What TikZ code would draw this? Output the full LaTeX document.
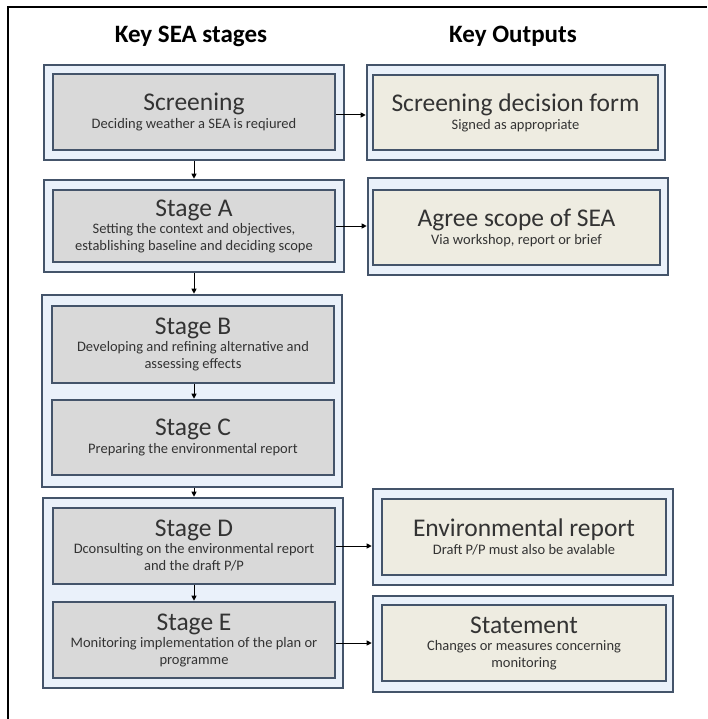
\documentclass[tikz,border=0pt]{standalone}
\usepackage{fontspec}
\setmainfont{Carlito}
\usetikzlibrary{arrows.meta}
\definecolor{bord}{HTML}{44546A}
\definecolor{outfill}{HTML}{EAF1FA}
\definecolor{grayfill}{HTML}{D9D9D9}
\definecolor{beige}{HTML}{EEECE1}
\begin{document}
\begin{tikzpicture}[x=1pt,y=-1pt,
  outerbox/.style={rectangle, draw=bord, line width=2.6pt, fill=outfill, minimum width=300pt, inner sep=0pt},
  innerbox/.style={rectangle, draw=bord, line width=2.6pt, fill=grayfill, minimum width=282pt, minimum height=76pt, inner sep=0pt, align=center, font=\fontsize{14.5}{17}\selectfont, text=black!80},
  outinner/.style={innerbox, fill=beige, minimum width=285pt},
  hdr/.style={font=\fontsize{25}{28}\selectfont\bfseries},
  flow/.style={-{Triangle[length=5pt,width=5pt]}, line width=1pt, black}]
\useasboundingbox (0,0) rectangle (707,719);
\draw[line width=1.6pt] (8,719) -- (8,7) -- (707,7);
\newcommand{\bigt}[1]{{\fontsize{25.5}{28}\selectfont #1}}
\node[hdr] (h1) at (191,36) {Key SEA stages};
\node[hdr] (h2) at (513,36) {Key Outputs};
% left column
\node[outerbox, minimum height=95pt] (o1) at (194,112.5) {};
\node[innerbox] (scr) at (194,112) {\bigt{Screening}\\[1pt]Deciding weather a SEA is reqiured};
\node[outerbox, minimum height=92pt] (o2) at (194,226) {};
\node[innerbox, minimum height=72pt] (sa) at (194,226) {\bigt{Stage A}\\Setting the context and objectives,\\establishing baseline and deciding scope};
\node[outerbox, minimum height=192pt] (o3) at (192,391) {};
\node[innerbox, minimum height=77pt] (sb) at (193,344.5) {\bigt{Stage B}\\Developing and refining alternative and\\assessing effects};
\node[innerbox, minimum height=75pt] (sc) at (193,437.5) {\bigt{Stage C}\\[1pt]Preparing the environmental report};
\node[outerbox, minimum height=190pt] (o4) at (193,593) {};
\node[innerbox] (sd) at (194,546) {\bigt{Stage D}\\Dconsulting on the environmental report\\and the draft P/P};
\node[innerbox] (se) at (194,640) {\bigt{Stage E}\\Monitoring implementation of the plan or\\programme};
% right column
\node[outerbox, minimum width=298pt, minimum height=95pt] (r1) at (516,112.5) {};
\node[outinner, minimum height=75pt] (sdf) at (515.5,112.5) {\bigt{Screening decision form}\\[1pt]Signed as appropriate};
\node[outerbox, minimum height=97pt] (r2) at (518,226.5) {};
\node[outinner, minimum width=287pt, minimum height=75pt] (asc) at (516.5,227.5) {\bigt{Agree scope of SEA}\\[1pt]Via workshop, report or brief};
\node[outerbox, minimum height=96pt] (r3) at (523,537) {};
\node[outinner, minimum width=284pt] (env) at (524,537) {\bigt{Environmental report}\\[1pt]Draft P/P must also be avalable};
\node[outerbox, minimum height=96pt] (r4) at (523,644) {};
\node[outinner, minimum width=284pt] (st) at (524,643) {\bigt{Statement}\\Changes or measures concerning\\monitoring};
% arrows
\draw[flow] (scr.east) ++(0,3) coordinate (a1) -- (a1 -| r1.west);
\draw[flow] (sa.east) -- (sa.east -| r2.west);
\draw[flow] (sd.east) -- (sd.east -| r3.west);
\draw[flow] (se.east) ++(0,3) coordinate (a4) -- (a4 -| r4.west);
\draw[flow] (o1.south -| scr.south) -- (o2.north -| scr.south);
\draw[flow] (o2.south -| scr.south) -- (o3.north -| scr.south);
\draw[flow] (sb.south -| scr.south) -- (sc.north -| scr.south);
\draw[flow] (o3.south -| scr.south) -- (o4.north -| scr.south);
\draw[flow] (sd.south) -- (se.north);
\end{tikzpicture}
\end{document}
